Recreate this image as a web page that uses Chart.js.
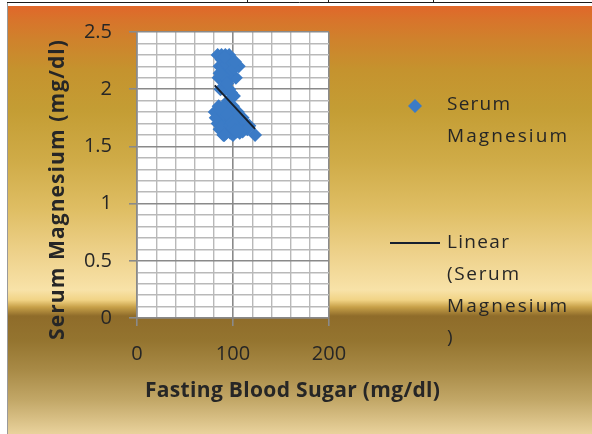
<!DOCTYPE html>
<html>
<head>
<meta charset="utf-8">
<style>
  html, body { margin: 0; padding: 0; background: #ffffff; }
  #wrap { position: relative; width: 592px; height: 434px; overflow: hidden; }
  canvas { display: block; }
</style>
<script src="https://cdn.jsdelivr.net/npm/chart.js@4/dist/chart.umd.min.js"></script>
</head>
<body>
<div id="wrap"><canvas id="chart" width="592" height="434"></canvas></div>
<script>
// Fasting blood sugar (mg/dl) and serum magnesium (mg/dl) per patient
const fastingSugar = [84, 88, 92, 96, 86, 90, 95, 100, 106, 85, 89, 93, 98, 103, 87, 92, 96,
                      95, 81, 85, 90, 100, 105, 110, 84, 88, 92, 96, 100, 104, 108, 113, 117, 123,
                      90, 95, 100, 110, 115, 86, 98, 102, 107, 82,
                      88, 88, 93, 93, 97, 97, 90, 90, 86, 86, 94, 94,
                      97, 97, 99, 100, 100, 103, 91, 91, 101, 101, 105,
                      98, 101, 102, 102, 104];
const serumMg      = [2.3, 2.3, 2.3, 2.3, 2.2, 2.2, 2.2, 2.2, 2.2, 2.1, 2.1, 2.1, 2.1, 2.1, 2.0, 2.0, 2.0,
                      1.9, 1.8, 1.85, 1.85, 1.85, 1.8, 1.75, 1.7, 1.75, 1.7, 1.75, 1.7, 1.65, 1.7, 1.7, 1.68, 1.6,
                      1.6, 1.65, 1.6, 1.63, 1.65, 1.65, 1.8, 1.75, 1.62, 1.75,
                      2.26, 1.67, 2.22, 1.62, 2.15, 1.62, 2.12, 1.78, 2.14, 1.83, 2.05, 1.78,
                      2.25, 1.68, 1.71, 2.25, 1.66, 1.63, 2.28, 1.6, 2.18, 1.69, 1.65,
                      1.97, 1.94, 2.24, 1.64, 1.63];

const xMajorTicks = [0, 100, 200];
const yMajorTicks = [0, 0.5, 1, 1.5, 2, 2.5];

const seriesName = 'Serum Magnesium';
const trendName = 'Linear (Serum Magnesium)';
const xTitle = 'Fasting Blood Sugar (mg/dl)';
const yTitle = 'Serum Magnesium (mg/dl)';

// Least-squares trend line over the data range
function linearFit(xs, ys) {
  const n = xs.length;
  const mx = xs.reduce((a, b) => a + b, 0) / n;
  const my = ys.reduce((a, b) => a + b, 0) / n;
  let sxy = 0, sxx = 0;
  for (let i = 0; i < n; i++) {
    sxy += (xs[i] - mx) * (ys[i] - my);
    sxx += (xs[i] - mx) * (xs[i] - mx);
  }
  const slope = sxy / sxx;
  return { slope, intercept: my - slope * mx };
}
const fit = linearFit(fastingSugar, serumMg);
const xLo = Math.min(...fastingSugar), xHi = Math.max(...fastingSugar);
const trendPoints = [xLo, xHi].map(x => ({ x, y: fit.intercept + fit.slope * x }));

const points = fastingSugar.map((x, i) => ({ x, y: serumMg[i] }));

const MARKER = '#3b7bc6';
const TEXT = '#262626';
const isMajor = (v, list) => list.some(m => Math.abs(m - v) < 1e-6);

function gridStyle(list) {
  return {
    color: c => isMajor(c.tick.value, list) ? '#8a8a8a' : '#b9b9b9',
    lineWidth: c => isMajor(c.tick.value, list) ? 1.6 : 1.4,
    tickColor: c => isMajor(c.tick.value, list) ? '#8a8a8a' : 'rgba(0,0,0,0)',
    tickLength: 8,
    drawTicks: true
  };
}

// Page backdrop: table rule, left rule, warm gradient and white plot area
const backdrop = {
  id: 'backdrop',
  beforeDraw(chart) {
    const { ctx, chartArea: a } = chart;
    ctx.save();
    ctx.fillStyle = '#ffffff';
    ctx.fillRect(0, 0, 592, 434);
    const g = ctx.createLinearGradient(0, 6, 0, 434);
    const stops = [
      [6, '#e0672a'], [20, '#d8742b'], [40, '#cf822c'], [70, '#c5932e'], [110, '#c49d34'],
      [160, '#cfab47'], [210, '#dfbe64'], [255, '#eed28c'], [290, '#f8e2a8'], [300, '#f1d385'],
      [307, '#c8a149'], [316, '#8f6c2a'], [340, '#94742f'], [370, '#a88a46'], [400, '#c2a767'],
      [434, '#e9d29c']
    ];
    stops.forEach(([y, c]) => g.addColorStop((y - 6) / 428, c));
    ctx.fillStyle = g;
    ctx.fillRect(8, 6, 584, 428);
    ctx.strokeStyle = '#9a9a9a';
    ctx.lineWidth = 1;
    ctx.beginPath(); ctx.moveTo(7.5, 3); ctx.lineTo(7.5, 434); ctx.stroke();
    ctx.strokeStyle = '#1a1a1a';
    ctx.beginPath(); ctx.moveTo(7, 2.5); ctx.lineTo(592, 2.5); ctx.stroke();
    [247, 328, 433].forEach(x => {
      ctx.beginPath(); ctx.moveTo(x + 0.5, 0); ctx.lineTo(x + 0.5, 3); ctx.stroke();
    });
    ctx.fillStyle = '#ffffff';
    ctx.fillRect(a.left, a.top, a.right - a.left, a.bottom - a.top);
    ctx.restore();
  }
};

// Text spread evenly to a given width
function spreadText(ctx, text, x, y, width) {
  ctx.letterSpacing = '0px';
  const w0 = ctx.measureText(text).width;
  const n = Math.max(text.length - 1, 1);
  const sp = Math.max((width - w0) / n, -1);
  ctx.letterSpacing = sp.toFixed(2) + 'px';
  ctx.textAlign = 'left';
  ctx.fillText(text, x, y);
  ctx.letterSpacing = '0px';
}

// Axis titles and the side legend
const labels = {
  id: 'labels',
  afterDraw(chart) {
    const { ctx } = chart;
    ctx.save();
    ctx.fillStyle = TEXT;
    ctx.textBaseline = 'middle';
    ctx.font = 'bold 21px "Open Sans"';
    spreadText(ctx, xTitle, 145, 391, 295);
    ctx.save();
    ctx.translate(58, 190);
    ctx.rotate(-Math.PI / 2);
    spreadText(ctx, yTitle, -150, 0, 300);
    ctx.restore();

    // legend: marker entry
    const ds0 = chart.data.datasets[0];
    const ds1 = chart.data.datasets[1];
    ctx.fillStyle = ds0.backgroundColor;
    ctx.beginPath();
    ctx.moveTo(415, 106 - 7); ctx.lineTo(415 + 7, 106); ctx.lineTo(415, 106 + 7); ctx.lineTo(415 - 7, 106);
    ctx.closePath(); ctx.fill();
    ctx.strokeStyle = ds1.borderColor;
    ctx.lineWidth = ds1.borderWidth;
    ctx.beginPath(); ctx.moveTo(390, 243); ctx.lineTo(440, 243); ctx.stroke();

    ctx.fillStyle = TEXT;
    ctx.font = '19px "Open Sans"';
    const [s1, s2] = ds0.label.split(' ');
    spreadText(ctx, s1, 447, 105, 63);
    spreadText(ctx, s2, 447, 137, 120);
    const [t1, t2, t3] = ds1.label.split(' ');
    spreadText(ctx, t1, 447, 243, 62);
    spreadText(ctx, t2, 447, 275, 72);
    spreadText(ctx, t3.replace(')', ''), 447, 307, 120);
    ctx.textAlign = 'left';
    ctx.fillText(')', 447, 338);
    ctx.restore();
  }
};

new Chart(document.getElementById('chart'), {
  type: 'scatter',
  data: {
    datasets: [
      {
        label: seriesName,
        data: points,
        pointStyle: 'rectRot',
        pointRadius: 7,
        pointHoverRadius: 7,
        backgroundColor: MARKER,
        borderColor: MARKER,
        borderWidth: 0,
        order: 1
      },
      {
        label: trendName,
        type: 'line',
        data: trendPoints,
        showLine: true,
        borderColor: '#16202e',
        borderWidth: 2,
        pointRadius: 0,
        fill: false,
        order: 0
      }
    ]
  },
  options: {
    responsive: false,
    animation: false,
    devicePixelRatio: 1,
    layout: { padding: { left: 0, right: 263, top: 32, bottom: 0 } },
    plugins: { legend: { display: false }, tooltip: { enabled: false } },
    scales: {
      x: {
        type: 'linear',
        min: 0, max: 200,
        afterFit: s => { s.height = 116; },
        border: { display: true, color: '#8a8a8a', width: 1.6 },
        grid: gridStyle(xMajorTicks),
        ticks: {
          stepSize: 20, autoSkip: false, maxRotation: 0, padding: 16,
          color: TEXT, font: { family: '"Open Sans"', size: 20 },
          callback: v => isMajor(v, xMajorTicks) ? String(v) : ''
        }
      },
      y: {
        type: 'linear',
        min: 0, max: 2.5,
        afterFit: s => { s.width = 137; },
        border: { display: true, color: '#8a8a8a', width: 1.6 },
        grid: gridStyle(yMajorTicks),
        ticks: {
          stepSize: 0.1, autoSkip: false, maxTicksLimit: 100, padding: 17,
          color: TEXT, font: { family: '"Open Sans"', size: 20 },
          callback: v => isMajor(v, yMajorTicks) ? String(Math.round(v * 10) / 10) : ''
        }
      }
    }
  },
  plugins: [backdrop, labels]
});
</script>
</body>
</html>
